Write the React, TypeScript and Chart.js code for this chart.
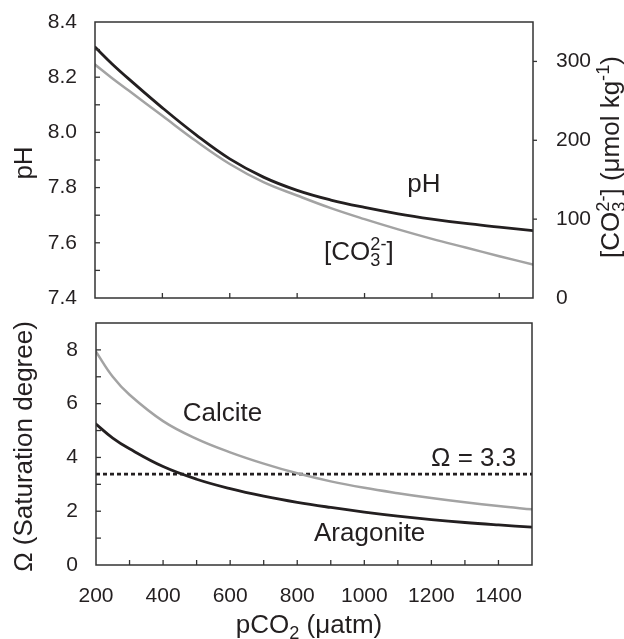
import React, { useEffect, useRef } from 'react';
import { Chart, registerables } from 'chart.js';

Chart.register(...registerables);

// ---------- data ----------
const pco2 = [200, 250, 300, 400, 500, 600, 700, 800, 900, 1000, 1100, 1200, 1300, 1400, 1500];
const phValues = [8.309, 8.249, 8.194, 8.089, 7.991, 7.904, 7.838, 7.79, 7.755, 7.728, 7.705, 7.686, 7.67, 7.657, 7.644];
const co3Values = [296, 279, 263, 231, 199, 170, 147, 130, 114, 100, 87, 75, 64, 53, 42.5];
const calciteValues = [7.93, 7.0, 6.33, 5.35, 4.69, 4.19, 3.77, 3.41, 3.11, 2.87, 2.67, 2.49, 2.33, 2.19, 2.07];
const aragoniteValues = [5.24, 4.72, 4.32, 3.66, 3.19, 2.84, 2.56, 2.33, 2.14, 1.97, 1.82, 1.69, 1.58, 1.49, 1.41];
const omegaLimit = 3.38;
const omegaLimitLabel = 'Ω = 3.3';

const phTickLabels = [7.4, 7.6, 7.8, 8.0, 8.2, 8.4];
const phTickMarks = [7.5, 7.6, 7.7, 7.8, 7.9, 8.0, 8.1, 8.2, 8.3];
const co3TickLabels = [0, 100, 200, 300];
const co3TickMarks = [100, 200, 300];
const topXTickMarks = [400, 600, 800, 1000, 1200, 1400];
const omegaTickLabels = [0, 2, 4, 6, 8];
const omegaTickMarks = [1, 2, 3, 4, 5, 6, 7, 8];
const xTickLabels = [200, 400, 600, 800, 1000, 1200, 1400];
const xTickMarks = [300, 400, 500, 600, 700, 800, 900, 1000, 1100, 1200, 1300, 1400];

// ---------- styles ----------
const FAMILY = '"Liberation Sans", Arial, Helvetica, sans-serif';
const TEXT = '#231f20';
const BLACK = '#231f20';
const GRAY = '#a3a3a3';
const FRAME = '#333333';
const TICK_FONT = { family: FAMILY, size: 21 };
const BIG = 26;

type Seg = { t: string; k?: 'sub' | 'sup'; stack?: boolean };

function drawRich(
  ctx: CanvasRenderingContext2D,
  segs: Seg[],
  size: number,
  x: number,
  y: number,
  align: 'left' | 'center' | 'right',
  rot = 0
) {
  ctx.save();
  ctx.translate(x, y);
  if (rot) ctx.rotate(rot);
  const items: { t: string; x: number; dy: number; fs: number }[] = [];
  let cx = 0;
  let prevStart = 0;
  for (const s of segs) {
    const fs = s.k ? size * 0.7 : size;
    ctx.font = `${fs}px ${FAMILY}`;
    const w = ctx.measureText(s.t).width;
    const start = s.stack ? prevStart : cx;
    const dy = s.k === 'sub' ? size * 0.24 : s.k === 'sup' ? -size * 0.4 : 0;
    items.push({ t: s.t, x: start, dy, fs });
    prevStart = start;
    cx = Math.max(cx, start + w);
  }
  const off = align === 'center' ? -cx / 2 : align === 'right' ? -cx : 0;
  ctx.fillStyle = TEXT;
  ctx.textAlign = 'left';
  ctx.textBaseline = 'alphabetic';
  for (const it of items) {
    ctx.font = `${it.fs}px ${FAMILY}`;
    ctx.fillText(it.t, off + it.x, it.dy);
  }
  ctx.restore();
}

type MarkSpec = { axis: string; values: number[]; side: 'left-in' | 'right-out' | 'bottom-in'; len: number };
type TextSpec = { segs: Seg[]; xv: number; yv: number; yAxis: string; align: 'left' | 'center' | 'right' };
type TitleSpec = { segs: Seg[]; x: number; y: number; rot: number };

function makeDecor(marks: MarkSpec[], texts: TextSpec[], titles: TitleSpec[]) {
  return {
    id: 'decor',
    afterDatasetsDraw(chart: any) {
      const ctx: CanvasRenderingContext2D = chart.ctx;
      const a = chart.chartArea;
      ctx.save();
      ctx.strokeStyle = FRAME;
      ctx.lineWidth = 1.5;
      ctx.strokeRect(a.left, a.top, a.right - a.left, a.bottom - a.top);
      ctx.lineWidth = 1.3;
      for (const m of marks) {
        const sc = chart.scales[m.axis];
        for (const v of m.values) {
          const p = sc.getPixelForValue(v);
          ctx.beginPath();
          if (m.side === 'bottom-in') {
            ctx.moveTo(p, a.bottom);
            ctx.lineTo(p, a.bottom - m.len);
          } else if (m.side === 'left-in') {
            ctx.moveTo(a.left, p);
            ctx.lineTo(a.left + m.len, p);
          } else {
            ctx.moveTo(a.right, p);
            ctx.lineTo(a.right + m.len, p);
          }
          ctx.stroke();
        }
      }
      ctx.restore();
      for (const t of texts) {
        const px = chart.scales.x.getPixelForValue(t.xv);
        const py = chart.scales[t.yAxis].getPixelForValue(t.yv);
        drawRich(ctx, t.segs, BIG, px, py, t.align);
      }
      for (const t of titles) {
        drawRich(ctx, t.segs, BIG, t.x, t.y, 'center', t.rot);
      }
    },
  };
}

const pts = (ys: number[]) => pco2.map((x, i) => ({ x, y: ys[i] }));

const fixV = (w: number) => (s: any) => {
  s.width = w;
  s.paddingTop = 0;
  s.paddingBottom = 0;
  s.paddingLeft = 0;
  s.paddingRight = 0;
};
const fixH = (h: number) => (s: any) => {
  s.height = h;
  s.paddingTop = 0;
  s.paddingBottom = 0;
  s.paddingLeft = 0;
  s.paddingRight = 0;
};

const curve = (color: string, width: number) => ({
  borderColor: color,
  borderWidth: width,
  pointRadius: 0,
  tension: 0.4,
  borderCapStyle: 'round',
  borderJoinStyle: 'round',
});

function topConfig(): any {
  return {
    type: 'line',
    data: {
      datasets: [
        { label: 'pH', data: pts(phValues), yAxisID: 'y', ...curve(BLACK, 2.8) },
        { label: 'CO3', data: pts(co3Values), yAxisID: 'y2', ...curve(GRAY, 2.5) },
      ],
    },
    options: {
      animation: false,
      responsive: false,
      maintainAspectRatio: false,
      layout: { padding: { top: 22, left: 0, right: 0, bottom: 0 }, autoPadding: false },
      plugins: { legend: { display: false }, tooltip: { enabled: false } },
      scales: {
        x: {
          type: 'linear',
          min: 200,
          max: 1500,
          ticks: { display: false },
          grid: { display: false, drawTicks: false },
          border: { display: false },
          afterFit: fixH(12),
        },
        y: {
          type: 'linear',
          position: 'left',
          min: 7.4,
          max: 8.4,
          afterBuildTicks: (s: any) => {
            s.ticks = phTickLabels.map((v) => ({ value: v }));
          },
          ticks: { callback: (v: any) => Number(v).toFixed(1), padding: 18, font: TICK_FONT, color: TEXT },
          grid: { display: false, drawTicks: false },
          border: { display: false },
          afterFit: fixV(95),
        },
        y2: {
          type: 'linear',
          position: 'right',
          min: 0,
          max: 350,
          afterBuildTicks: (s: any) => {
            s.ticks = co3TickLabels.map((v) => ({ value: v }));
          },
          ticks: { callback: (v: any) => String(v), padding: 23, font: TICK_FONT, color: TEXT },
          grid: { display: false, drawTicks: false },
          border: { display: false },
          afterFit: fixV(91),
        },
      },
    },
    plugins: [
      makeDecor(
        [
          { axis: 'x', values: topXTickMarks, side: 'bottom-in', len: 5 },
          { axis: 'y', values: phTickMarks, side: 'left-in', len: 5 },
          { axis: 'y2', values: co3TickMarks, side: 'right-out', len: 4 },
        ],
        [
          { segs: [{ t: 'pH' }], xv: 1176, yv: 7.784, yAxis: 'y', align: 'center' },
          {
            segs: [{ t: '[CO' }, { t: '3', k: 'sub' }, { t: '2-', k: 'sup', stack: true }, { t: ']' }],
            xv: 880,
            yv: 7.537,
            yAxis: 'y',
            align: 'left',
          },
        ],
        [
          { segs: [{ t: 'pH' }], x: 32, y: 163, rot: -Math.PI / 2 },
          {
            segs: [
              { t: '[CO' },
              { t: '3', k: 'sub' },
              { t: '2-', k: 'sup', stack: true },
              { t: '] (μmol kg' },
              { t: '-1', k: 'sup' },
              { t: ')' },
            ],
            x: 619,
            y: 157,
            rot: -Math.PI / 2,
          },
        ]
      ),
    ],
  };
}

function bottomConfig(): any {
  return {
    type: 'line',
    data: {
      datasets: [
        { label: 'Calcite', data: pts(calciteValues), ...curve(GRAY, 2.5) },
        { label: 'Aragonite', data: pts(aragoniteValues), ...curve(BLACK, 2.8) },
        {
          label: 'Omega limit',
          data: [
            { x: pco2[0], y: omegaLimit },
            { x: pco2[pco2.length - 1], y: omegaLimit },
          ],
          borderColor: BLACK,
          borderWidth: 2.6,
          borderDash: [4, 3],
          pointRadius: 0,
        },
      ],
    },
    options: {
      animation: false,
      responsive: false,
      maintainAspectRatio: false,
      layout: { padding: { top: 13, left: 0, right: 92, bottom: 0 }, autoPadding: false },
      plugins: { legend: { display: false }, tooltip: { enabled: false } },
      scales: {
        x: {
          type: 'linear',
          min: 200,
          max: 1500,
          afterBuildTicks: (s: any) => {
            s.ticks = xTickLabels.map((v) => ({ value: v }));
          },
          ticks: { callback: (v: any) => String(v), padding: 19, font: TICK_FONT, color: TEXT, maxRotation: 0, autoSkip: false },
          grid: { display: false, drawTicks: false },
          border: { display: false },
          afterFit: fixH(74),
        },
        y: {
          type: 'linear',
          position: 'left',
          min: 0,
          max: 9,
          afterBuildTicks: (s: any) => {
            s.ticks = omegaTickLabels.map((v) => ({ value: v }));
          },
          ticks: { callback: (v: any) => String(v), padding: 18, font: TICK_FONT, color: TEXT },
          grid: { display: false, drawTicks: false },
          border: { display: false },
          afterFit: fixV(96),
        },
      },
    },
    plugins: [
      makeDecor(
        [
          { axis: 'x', values: xTickMarks, side: 'bottom-in', len: 5 },
          { axis: 'y', values: omegaTickMarks, side: 'left-in', len: 5 },
        ],
        [
          { segs: [{ t: 'Calcite' }], xv: 577, yv: 5.37, yAxis: 'y', align: 'center' },
          { segs: [{ t: 'Aragonite' }], xv: 1016, yv: 0.91, yAxis: 'y', align: 'center' },
          { segs: [{ t: omegaLimitLabel }], xv: 1453, yv: 3.7, yAxis: 'y', align: 'right' },
        ],
        [
          { segs: [{ t: 'Ω (Saturation degree)' }], x: 32, y: 136.5, rot: -Math.PI / 2 },
          { segs: [{ t: 'pCO' }, { t: '2', k: 'sub' }, { t: ' (μatm)' }], x: 309, y: 323, rot: 0 },
        ]
      ),
    ],
  };
}

export default function App() {
  const topRef = useRef<HTMLCanvasElement>(null);
  const botRef = useRef<HTMLCanvasElement>(null);
  useEffect(() => {
    const c1 = new Chart(topRef.current as HTMLCanvasElement, topConfig());
    const c2 = new Chart(botRef.current as HTMLCanvasElement, bottomConfig());
    return () => {
      c1.destroy();
      c2.destroy();
    };
  }, []);
  return (
    <div style={{ position: 'absolute', left: 0, top: 0, width: 624, height: 639, background: '#fff' }}>
      <canvas
        ref={topRef}
        width={624}
        height={310}
        style={{ position: 'absolute', left: 0, top: 0, width: 624, height: 310 }}
      />
      <canvas
        ref={botRef}
        width={624}
        height={329}
        style={{ position: 'absolute', left: 0, top: 310, width: 624, height: 329 }}
      />
    </div>
  );
}
